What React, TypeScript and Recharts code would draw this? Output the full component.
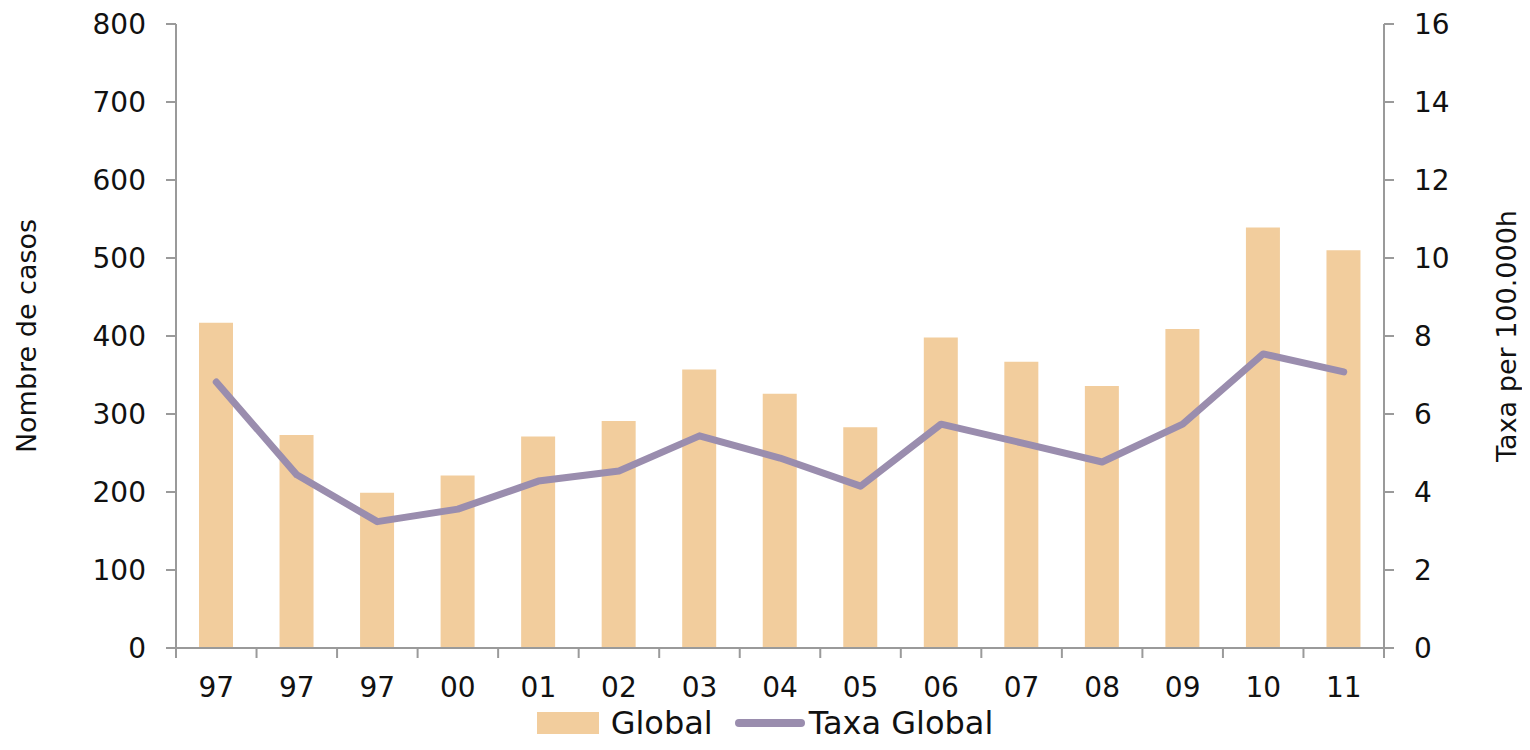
import React from 'react'
import { Bar, ComposedChart, Legend, Line, XAxis, YAxis } from 'recharts'

const years = ['97', '97', '97', '00', '01', '02', '03', '04', '05', '06', '07', '08', '09', '10', '11']
const casos = [417, 273, 199, 221, 271, 291, 357, 326, 283, 398, 367, 336, 409, 539, 510]
const taxa = [6.82, 4.44, 3.24, 3.56, 4.28, 4.54, 5.44, 4.87, 4.15, 5.74, 5.26, 4.77, 5.74, 7.54, 7.08]
const leftTicks = [0, 100, 200, 300, 400, 500, 600, 700, 800]
const rightTicks = [0, 2, 4, 6, 8, 10, 12, 14, 16]
const boundaryTicks = [0, 1, 2, 3, 4, 5, 6, 7, 8, 9, 10, 11, 12, 13, 14, 15]

// each category sits in the middle of its slot, so the tick marks fall on the slot edges
const data = years.map((year, i) => ({ year, idx: i + 0.5, casos: casos[i], taxa: taxa[i] }))

const BAR = '#F2CD9D'
const LINE = '#9A8DAE'
const AXIS = '#9a9a9a'
const FONT = '"DejaVu Sans", sans-serif'

const WIDTH = 1530
const LEFT_W = 176
const RIGHT_W = 146
const HALF_SLOT = (WIDTH - LEFT_W - RIGHT_W) / years.length / 2

const tickStyle = { fill: '#111', fontSize: 28, fontFamily: FONT }

function YearTick(props: any) {
  const { x, y, payload } = props
  const label = years[payload.value]
  if (label === undefined) return <g />
  return (
    <text x={x + HALF_SLOT} y={y} dy="0.71em" textAnchor="middle" {...tickStyle}>
      {label}
    </text>
  )
}

function LegendBox() {
  return (
    <div style={{ display: 'flex', justifyContent: 'center', alignItems: 'center', fontFamily: FONT, fontSize: 32, color: '#111', lineHeight: '34px' }}>
      <span style={{ display: 'inline-block', width: 62, height: 22, background: BAR, marginRight: 12 }} />
      <span style={{ marginRight: 22 }}>Global</span>
      <span style={{ display: 'inline-block', width: 70, height: 8, borderRadius: 4, background: LINE, marginRight: 4 }} />
      <span>Taxa Global</span>
    </div>
  )
}

export default function App() {
  return (
    <div style={{ margin: -8, width: WIDTH, height: 750, background: '#fff' }}>
      <ComposedChart width={WIDTH} height={750} data={data} margin={{ top: 24, right: 0, bottom: 0, left: 0 }}>
        <XAxis
          type="number"
          dataKey="idx"
          domain={[0, 15]}
          ticks={boundaryTicks}
          interval={0}
          tick={YearTick}
          height={66}
          stroke={AXIS}
          strokeWidth={2}
          tickSize={10}
          tickMargin={19}
          allowDataOverflow
        />
        <YAxis
          yAxisId="left"
          domain={[0, 800]}
          ticks={leftTicks}
          width={LEFT_W}
          stroke={AXIS}
          strokeWidth={2}
          tickSize={10}
          tickMargin={20}
          tick={tickStyle}
          label={{ value: 'Nombre de casos', angle: -90, position: 'insideLeft', offset: 26, style: { fill: '#111', fontSize: 27, fontFamily: FONT, textAnchor: 'middle' } }}
        />
        <YAxis
          yAxisId="right"
          orientation="right"
          domain={[0, 16]}
          ticks={rightTicks}
          width={RIGHT_W}
          stroke={AXIS}
          strokeWidth={2}
          tickSize={10}
          tickMargin={20}
          tick={tickStyle}
          label={{ value: 'Taxa per 100.000h', angle: -90, position: 'insideRight', offset: 24, style: { fill: '#111', fontSize: 27, fontFamily: FONT, textAnchor: 'middle' } }}
        />
        <Legend verticalAlign="bottom" height={36} wrapperStyle={{ bottom: 8 }} content={<LegendBox />} />
        <Bar yAxisId="left" dataKey="casos" name="Global" fill={BAR} barSize={34} isAnimationActive={false} />
        <Line
          yAxisId="right"
          dataKey="taxa"
          name="Taxa Global"
          stroke={LINE}
          strokeWidth={7}
          strokeLinecap="round"
          strokeLinejoin="round"
          dot={false}
          activeDot={false}
          type="linear"
          isAnimationActive={false}
        />
      </ComposedChart>
    </div>
  )
}
